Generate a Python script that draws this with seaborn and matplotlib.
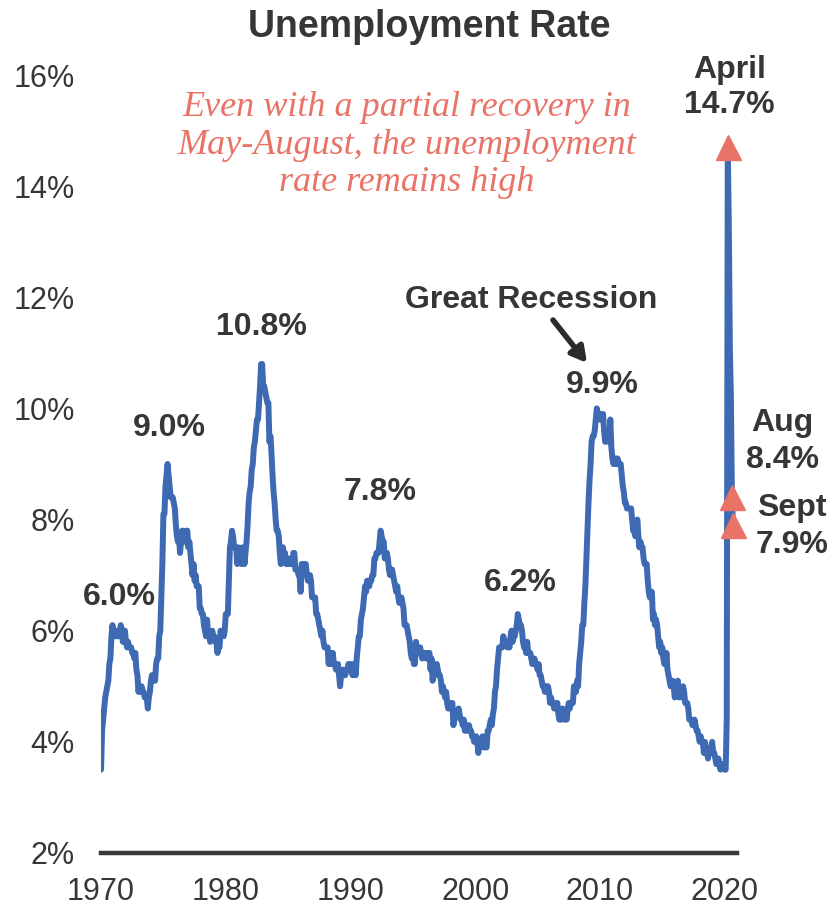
import matplotlib
matplotlib.use("Agg")
import matplotlib.pyplot as plt
import numpy as np
import seaborn as sns

# monthly unemployment rate (%), Jan 1970 - Sep 2020
unrate = [
    3.5, 4.2, 4.4, 4.6, 4.8, 4.9, 5.0, 5.1, 5.4, 5.5, 5.9, 6.1,   # 1970
    5.9, 5.9, 6.0, 5.9, 5.9, 5.9, 6.0, 6.1, 6.0, 5.8, 6.0, 6.0,   # 1971
    5.8, 5.7, 5.8, 5.7, 5.7, 5.7, 5.6, 5.6, 5.5, 5.6, 5.3, 5.2,   # 1972
    4.9, 5.0, 4.9, 5.0, 4.9, 4.9, 4.8, 4.8, 4.8, 4.6, 4.8, 4.9,   # 1973
    5.1, 5.2, 5.1, 5.1, 5.1, 5.4, 5.5, 5.5, 5.9, 6.0, 6.6, 7.2,   # 1974
    8.1, 8.1, 8.6, 8.8, 9.0, 8.8, 8.6, 8.4, 8.4, 8.4, 8.3, 8.2,   # 1975
    7.9, 7.7, 7.6, 7.7, 7.4, 7.6, 7.8, 7.8, 7.6, 7.7, 7.8, 7.8,   # 1976
    7.5, 7.6, 7.4, 7.2, 7.0, 7.2, 6.9, 7.0, 6.8, 6.8, 6.8, 6.4,   # 1977
    6.4, 6.3, 6.3, 6.1, 6.0, 5.9, 6.2, 5.9, 6.0, 5.8, 5.9, 6.0,   # 1978
    5.9, 5.9, 5.8, 5.8, 5.6, 5.7, 5.7, 6.0, 5.9, 6.0, 5.9, 6.0,   # 1979
    6.3, 6.3, 6.3, 6.9, 7.5, 7.6, 7.8, 7.7, 7.5, 7.5, 7.5, 7.2,   # 1980
    7.5, 7.4, 7.4, 7.2, 7.5, 7.5, 7.2, 7.4, 7.6, 7.9, 8.3, 8.5,   # 1981
    8.6, 8.9, 9.0, 9.3, 9.4, 9.6, 9.8, 9.8, 10.1, 10.4, 10.8, 10.8,  # 1982
    10.4, 10.4, 10.3, 10.2, 10.1, 10.1, 9.4, 9.5, 9.2, 8.8, 8.5, 8.3,  # 1983
    8.0, 7.8, 7.8, 7.7, 7.4, 7.2, 7.5, 7.5, 7.3, 7.4, 7.2, 7.3,   # 1984
    7.3, 7.2, 7.2, 7.3, 7.2, 7.4, 7.4, 7.1, 7.1, 7.1, 7.0, 7.0,   # 1985
    6.7, 7.2, 7.2, 7.1, 7.2, 7.2, 7.0, 6.9, 7.0, 7.0, 6.9, 6.6,   # 1986
    6.6, 6.6, 6.6, 6.3, 6.3, 6.2, 6.1, 6.0, 5.9, 6.0, 5.8, 5.7,   # 1987
    5.7, 5.7, 5.7, 5.4, 5.6, 5.4, 5.4, 5.6, 5.4, 5.4, 5.3, 5.3,   # 1988
    5.4, 5.2, 5.0, 5.2, 5.2, 5.3, 5.2, 5.2, 5.3, 5.3, 5.4, 5.4,   # 1989
    5.4, 5.3, 5.2, 5.4, 5.4, 5.2, 5.5, 5.7, 5.9, 5.9, 6.2, 6.3,   # 1990
    6.4, 6.6, 6.8, 6.7, 6.9, 6.9, 6.8, 6.9, 6.9, 7.0, 7.0, 7.3,   # 1991
    7.3, 7.4, 7.4, 7.4, 7.6, 7.8, 7.7, 7.6, 7.6, 7.3, 7.4, 7.4,   # 1992
    7.3, 7.1, 7.0, 7.1, 7.1, 7.0, 6.9, 6.8, 6.7, 6.8, 6.6, 6.5,   # 1993
    6.6, 6.6, 6.5, 6.4, 6.1, 6.1, 6.1, 6.0, 5.9, 5.8, 5.6, 5.5,   # 1994
    5.6, 5.4, 5.4, 5.8, 5.6, 5.6, 5.7, 5.7, 5.6, 5.5, 5.6, 5.6,   # 1995
    5.6, 5.5, 5.5, 5.6, 5.6, 5.3, 5.5, 5.1, 5.2, 5.2, 5.4, 5.4,   # 1996
    5.3, 5.2, 5.2, 5.1, 4.9, 5.0, 4.9, 4.8, 4.9, 4.7, 4.6, 4.7,   # 1997
    4.6, 4.6, 4.7, 4.3, 4.4, 4.5, 4.5, 4.5, 4.6, 4.5, 4.4, 4.4,   # 1998
    4.3, 4.4, 4.2, 4.3, 4.2, 4.3, 4.3, 4.2, 4.2, 4.1, 4.1, 4.0,   # 1999
    4.0, 4.1, 4.0, 3.8, 4.0, 4.0, 4.0, 4.1, 3.9, 3.9, 3.9, 3.9,   # 2000
    4.2, 4.2, 4.3, 4.4, 4.3, 4.5, 4.6, 4.9, 5.0, 5.3, 5.5, 5.7,   # 2001
    5.7, 5.7, 5.7, 5.9, 5.8, 5.8, 5.8, 5.7, 5.7, 5.7, 5.9, 6.0,   # 2002
    5.8, 5.9, 5.9, 6.0, 6.1, 6.3, 6.2, 6.1, 6.1, 6.0, 5.8, 5.7,   # 2003
    5.7, 5.6, 5.8, 5.6, 5.6, 5.6, 5.5, 5.4, 5.4, 5.5, 5.4, 5.4,   # 2004
    5.3, 5.4, 5.2, 5.2, 5.1, 5.0, 5.0, 4.9, 5.0, 5.0, 5.0, 4.9,   # 2005
    4.7, 4.8, 4.7, 4.7, 4.6, 4.6, 4.7, 4.7, 4.5, 4.4, 4.5, 4.4,   # 2006
    4.6, 4.5, 4.4, 4.5, 4.4, 4.6, 4.7, 4.6, 4.7, 4.7, 4.7, 5.0,   # 2007
    5.0, 4.9, 5.1, 5.0, 5.4, 5.6, 5.8, 6.1, 6.1, 6.5, 6.8, 7.3,   # 2008
    7.8, 8.3, 8.7, 9.0, 9.4, 9.5, 9.5, 9.6, 9.8, 10.0, 9.9, 9.9,  # 2009
    9.8, 9.8, 9.9, 9.9, 9.6, 9.4, 9.4, 9.5, 9.5, 9.4, 9.8, 9.3,   # 2010
    9.1, 9.0, 9.0, 9.1, 9.0, 9.1, 9.0, 9.0, 9.0, 8.8, 8.6, 8.5,   # 2011
    8.3, 8.3, 8.2, 8.2, 8.2, 8.2, 8.2, 8.0, 7.8, 7.8, 7.7, 7.9,   # 2012
    8.0, 7.7, 7.5, 7.6, 7.5, 7.5, 7.3, 7.2, 7.2, 7.2, 6.9, 6.7,   # 2013
    6.6, 6.7, 6.7, 6.2, 6.3, 6.1, 6.2, 6.1, 5.9, 5.7, 5.8, 5.6,   # 2014
    5.7, 5.5, 5.4, 5.4, 5.6, 5.3, 5.2, 5.1, 5.0, 5.0, 5.1, 5.0,   # 2015
    4.8, 4.9, 5.0, 5.1, 4.8, 4.9, 4.8, 4.9, 5.0, 4.9, 4.7, 4.7,   # 2016
    4.7, 4.6, 4.4, 4.4, 4.4, 4.3, 4.3, 4.4, 4.3, 4.2, 4.2, 4.1,   # 2017
    4.0, 4.1, 4.0, 4.0, 3.8, 4.0, 3.8, 3.8, 3.7, 3.8, 3.8, 3.9,   # 2018
    4.0, 3.8, 3.8, 3.7, 3.6, 3.6, 3.7, 3.6, 3.5, 3.6, 3.6, 3.6,   # 2019
    3.5, 3.5, 4.4, 14.7, 13.3, 11.1, 10.2, 8.4, 7.9,             # 2020
]
start_year = 1970

# highlighted 2020 months
hl_labels = ["April", "Aug", "Sept"]
hl_month_index = [603, 607, 608]

# peak labels (text, x year, y value)
peak_text = ["6.0%", "9.0%", "10.8%", "7.8%", "6.2%", "9.9%"]
peak_x = [1971.5, 1975.45, 1982.9, 1992.35, 2003.6, 2010.2]
peak_y = [6.6, 9.65, 11.47, 8.5, 6.86, 10.42]

year_ticks = [1970, 1980, 1990, 2000, 2010, 2020]
pct_ticks = [2, 4, 6, 8, 10, 12, 14, 16]

BLUE = "#3E6AB4"
RED = "#E97366"
DARK = "#363636"

sns.set_style("white")
plt.rcParams["font.family"] = ["Liberation Sans", "DejaVu Sans"]

years = start_year + np.arange(len(unrate)) / 12.0

fig = plt.figure(figsize=(8.33, 9.06), dpi=100)
ax = fig.add_axes([0.1213, 0.0585, 0.7636, 0.8587])

sns.lineplot(x=years, y=unrate, ax=ax, color=BLUE, linewidth=4.3)

ax.set_xlim(1970, 2021)
ax.set_ylim(2, 16)
ax.set_xticks(year_ticks)
ax.set_yticks(pct_ticks)
ax.set_yticklabels([f"{v}%" for v in pct_ticks])
ax.tick_params(axis="both", length=0, labelsize=22, colors=DARK)
ax.tick_params(axis="y", pad=19)
ax.tick_params(axis="x", pad=17)
ax.set_xlabel("")
ax.set_ylabel("")

for side in ["top", "right", "left"]:
    ax.spines[side].set_visible(False)
ax.spines["bottom"].set_color("#3a3a3a")
ax.spines["bottom"].set_linewidth(3.2)

# markers on the 2020 months
hl_x = [years[i] for i in hl_month_index]
hl_y = [unrate[i] for i in hl_month_index]
ax.plot(hl_x, hl_y, linestyle="none", marker="^", markersize=18,
        color=RED, clip_on=False, zorder=5)

bold = dict(fontweight="bold", fontsize=23, color=DARK, ha="center", va="center")

for t, x, y in zip(peak_text, peak_x, peak_y):
    ax.text(x, y, t, **bold)

# 2020 labels
ax.text(2020.4, 16.09, hl_labels[0], clip_on=False, **bold)
ax.text(2020.4, 15.46, f"{hl_y[0]:.1f}%", clip_on=False, **bold)
ax.text(2024.6, 9.74, hl_labels[1], clip_on=False, **bold)
ax.text(2024.6, 9.07, f"{hl_y[1]:.1f}%", clip_on=False, **bold)
ax.text(2025.4, 8.21, hl_labels[2], clip_on=False, **bold)
ax.text(2025.4, 7.54, f"{hl_y[2]:.1f}%", clip_on=False, **bold)

# Great Recession callout
ax.text(2004.5, 11.95, "Great Recession", **bold)
ax.annotate("", xy=(2009.1, 10.78), xytext=(2006.1, 11.63),
            arrowprops=dict(arrowstyle="-|>,head_length=0.9,head_width=0.5",
                            color="#2b2b2b", lw=4))

ax.text(1994.5, 14.74,
        "Even with a partial recovery in\nMay-August, the unemployment\nrate remains high",
        family=["Liberation Serif", "DejaVu Serif"], fontstyle="italic",
        fontsize=26, color=RED, ha="center", va="center", linespacing=1.17)

fig.text(0.515, 0.970, "Unemployment Rate",
         fontweight="bold", fontsize=27, color=DARK, ha="center", va="center")

fig.savefig("out.png", dpi=100)
